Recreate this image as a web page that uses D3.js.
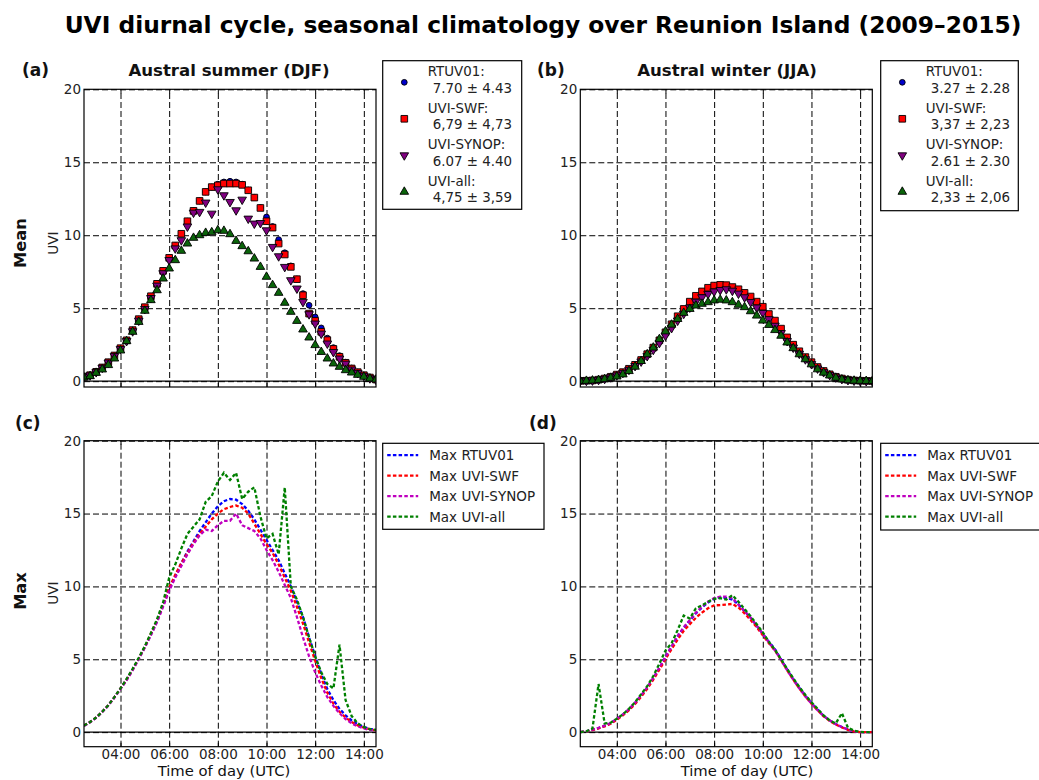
<!DOCTYPE html>
<html><head><meta charset="utf-8">
<script src="https://cdn.jsdelivr.net/npm/d3@7"></script>
<style>
body{margin:0;background:#fff;}
text{font-family:"DejaVu Sans",sans-serif;}
</style></head>
<body><svg id="chart" width="1039" height="780"></svg>
<script>
// ---------- DATA ----------
const times = [2.5,2.75,3,3.25,3.5,3.75,4,4.25,4.5,4.75,5,5.25,5.5,5.75,6,6.25,6.5,6.75,7,7.25,7.5,7.75,8,8.25,8.5,8.75,9,9.25,9.5,9.75,10,10.25,10.5,10.75,11,11.25,11.5,11.75,12,12.25,12.5,12.75,13,13.25,13.5,13.75,14,14.25,14.5];
const xTickValues = [4,6,8,10,12,14];
const xTickLabels = ["04:00","06:00","08:00","10:00","12:00","14:00"];
const yTickValues = [0,5,10,15,20];

// (a) Mean, austral summer (DJF)
const meanDJF_RTUV01 = [0.3,0.42,0.65,0.95,1.3,1.76,2.26,2.8,3.5,4.25,5.07,5.82,6.67,7.56,8.45,9.3,10.1,10.96,11.67,12.35,12.97,13.3,13.5,13.65,13.7,13.65,13.5,13.1,12.6,11.9,11.25,10.6,9.7,8.8,7.9,7.0,6.0,5.2,4.4,3.65,2.95,2.3,1.75,1.3,0.9,0.62,0.41,0.25,0.12];
const meanDJF_SWF    = [0.3,0.41,0.64,0.94,1.3,1.76,2.26,2.8,3.5,4.25,5.07,5.82,6.67,7.56,8.45,9.3,10.1,10.96,11.67,12.35,12.97,13.3,13.42,13.54,13.54,13.54,13.45,13.08,12.58,11.87,10.96,10.52,9.43,8.68,7.83,6.99,5.89,4.63,4.13,3.38,2.81,2.21,1.67,1.26,0.87,0.62,0.41,0.25,0.11];
const meanDJF_SYNOP  = [0.3,0.4,0.62,0.92,1.28,1.72,2.2,2.75,3.42,4.15,4.95,5.7,6.55,7.4,8.3,9.1,9.66,10.6,11.55,11.6,12.24,11.48,13.15,12.74,12.28,11.71,12.44,11.14,10.8,10.84,10.34,9.2,8.56,7.83,6.92,6.35,5.43,4.59,3.95,3.26,2.58,2.0,1.55,1.2,0.8,0.57,0.37,0.2,0.1];
const meanDJF_all    = [0.25,0.34,0.57,0.8,1.1,1.55,2.1,2.74,3.38,4.06,4.82,5.55,6.23,7.03,7.72,8.29,8.93,9.43,9.82,10.0,10.16,10.2,10.34,10.3,10.07,9.61,9.25,8.9,8.4,7.83,7.15,6.58,6.05,5.37,4.75,4.13,3.54,2.99,2.47,2.0,1.55,1.21,0.98,0.75,0.59,0.43,0.3,0.18,0.11];

// (b) Mean, austral winter (JJA)
const meanJJA_RTUV01 = [0.02,0.03,0.05,0.1,0.17,0.28,0.42,0.6,0.82,1.08,1.4,1.78,2.22,2.7,3.22,3.75,4.28,4.78,5.25,5.65,5.95,6.2,6.35,6.42,6.4,6.3,6.15,5.9,5.62,5.28,4.92,4.48,4.02,3.5,2.95,2.45,2.0,1.6,1.25,0.93,0.67,0.45,0.28,0.17,0.09,0.05,0.03,0.02,0.01];
const meanJJA_SWF    = [0.02,0.03,0.05,0.1,0.18,0.3,0.45,0.62,0.85,1.12,1.45,1.85,2.3,2.8,3.35,3.9,4.45,4.95,5.45,5.85,6.15,6.4,6.55,6.6,6.58,6.45,6.3,6.05,5.8,5.45,5.1,4.6,4.15,3.6,3.0,2.5,2.05,1.65,1.3,0.97,0.7,0.47,0.3,0.18,0.1,0.05,0.03,0.02,0.01];
const meanJJA_SYNOP  = [0.02,0.03,0.05,0.09,0.16,0.27,0.4,0.57,0.78,1.04,1.35,1.72,2.15,2.62,3.12,3.64,4.15,4.62,5.05,5.45,5.75,5.98,6.15,6.25,6.3,6.2,6.0,5.75,5.42,5.05,4.68,4.25,3.8,3.3,2.75,2.3,1.88,1.5,1.17,0.87,0.62,0.42,0.26,0.15,0.08,0.04,0.02,0.01,0.01];
const meanJJA_all    = [0.01,0.02,0.04,0.08,0.14,0.23,0.32,0.46,0.69,0.99,1.38,1.84,2.3,2.88,3.41,3.87,4.26,4.68,4.95,5.18,5.3,5.41,5.53,5.58,5.53,5.41,5.23,5.07,4.79,4.49,4.15,3.85,3.5,3.11,2.65,2.26,1.84,1.5,1.15,0.81,0.58,0.39,0.23,0.12,0.06,0.03,0.02,0.01,0.01];

// (c) Max, austral summer (DJF)
const maxDJF_RTUV01 = [0.45,0.7,1.0,1.4,1.85,2.4,3.0,3.6,4.3,5.05,5.85,6.7,7.6,8.7,9.8,10.7,11.6,12.4,13.1,13.8,14.4,15.0,15.5,15.85,16.0,15.95,15.65,15.2,14.6,13.9,13.2,12.5,11.8,10.9,10.0,8.95,7.9,6.5,5.2,4.0,2.95,2.2,1.6,1.15,0.8,0.55,0.35,0.22,0.15];
const maxDJF_SWF    = [0.45,0.7,1.0,1.4,1.85,2.4,3.0,3.6,4.3,5.05,5.85,6.75,7.65,8.75,9.9,10.8,11.6,12.3,13.0,13.6,14.1,14.6,15.0,15.3,15.45,15.55,15.4,15.0,14.3,13.6,12.9,12.3,11.5,10.6,9.7,8.6,7.45,6.15,4.9,3.7,2.7,1.95,1.4,1.0,0.7,0.45,0.3,0.2,0.12];
const maxDJF_SYNOP  = [0.42,0.68,0.98,1.38,1.82,2.36,2.95,3.55,4.25,5.0,5.8,6.65,7.55,8.6,9.7,10.6,11.4,12.2,12.9,13.5,13.9,13.8,14.2,14.5,14.5,15.0,14.2,14.0,13.8,13.3,12.5,11.8,11.0,10.1,9.2,7.9,6.5,5.2,4.1,3.2,2.4,1.8,1.3,0.9,0.6,0.4,0.25,0.15,0.1];
const maxDJF_all    = [0.45,0.7,1.0,1.4,1.85,2.4,3.0,3.65,4.35,5.1,5.9,6.8,7.75,8.9,10.6,11.5,12.6,13.6,14.1,14.6,15.8,16.2,17.2,17.8,17.3,17.8,16.0,16.5,16.8,14.8,13.3,13.6,12.2,16.8,10.0,9.1,7.9,6.5,5.2,4.1,3.3,3.0,6.0,2.2,1.1,0.6,0.35,0.2,0.15];

// (d) Max, austral winter (JJA)
const maxJJA_RTUV01 = [0.0,0.05,0.15,0.28,0.42,0.6,0.9,1.2,1.55,2.0,2.5,3.05,3.7,4.4,5.15,5.85,6.55,7.15,7.65,8.15,8.55,8.9,9.15,9.25,9.2,9.1,8.75,8.3,7.85,7.3,6.75,6.2,5.7,5.0,4.3,3.65,3.05,2.5,2.0,1.55,1.12,0.8,0.55,0.35,0.18,0.05,0.0,0.0,0.0];
const maxJJA_SWF    = [0.0,0.05,0.14,0.26,0.4,0.57,0.85,1.15,1.5,1.93,2.42,2.97,3.6,4.28,5.0,5.7,6.35,6.95,7.4,7.85,8.2,8.5,8.7,8.72,8.75,8.8,8.55,8.15,7.7,7.2,6.65,6.1,5.6,4.95,4.25,3.6,3.0,2.45,1.95,1.5,1.08,0.77,0.52,0.32,0.16,0.04,0.0,0.0,0.0];
const maxJJA_SYNOP  = [0.0,0.06,0.17,0.3,0.45,0.63,0.92,1.22,1.58,2.02,2.52,3.08,3.72,4.42,5.15,5.88,6.6,7.2,7.7,8.2,8.6,8.95,9.2,9.3,9.3,9.2,8.75,8.3,7.85,7.3,6.75,6.15,5.6,4.95,4.25,3.6,3.0,2.45,1.95,1.5,1.1,0.8,0.55,0.35,0.18,0.05,0.0,0.0,0.0];
const maxJJA_all    = [0.0,0.05,0.25,3.3,0.6,0.65,0.92,1.22,1.6,2.05,2.6,3.15,3.85,4.7,5.6,6.1,7.0,8.0,7.8,8.5,8.7,8.95,9.15,9.2,9.1,9.4,8.95,8.45,7.95,7.4,6.85,6.2,5.65,5.0,4.35,3.7,3.1,2.55,2.05,1.6,1.15,0.8,0.6,1.3,0.3,0.1,0.02,0.0,0.0];

const meanNames = ["RTUV01:","UVI-SWF:","UVI-SYNOP:","UVI-all:"];
const meanStatsDJF = ["7.70 \u00b1 4.43","6,79 \u00b1 4,73","6.07 \u00b1 4.40","4,75 \u00b1 3,59"];
const meanStatsJJA = ["3.27 \u00b1 2.28","3,37 \u00b1 2,23","2.61 \u00b1 2.30","2,33 \u00b1 2,06"];
const maxNames = ["Max RTUV01","Max UVI-SWF","Max UVI-SYNOP","Max UVI-all"];

// ---------- STYLE ----------
const markerFill = ["#0000cc","#ff0000","#800080","#0a640a"];
const markerType = ["circle","square","down","up"];
const lineColor = ["#0000ff","#ff0000","#bf00bf","#008000"];

const svg = d3.select("#chart");
const panels = [
  {lab:"(a)", title:"Austral summer (DJF)", x0:84, x1:376, y0:89.3, y1:387, ymin:-0.4, kind:"mean",
   series:[meanDJF_RTUV01,meanDJF_SWF,meanDJF_SYNOP,meanDJF_all], stats:meanStatsDJF,
   labX:22, titleX:229, leg:{x:382.7,y:60.7,w:139,h:148.6}},
  {lab:"(b)", title:"Austral winter (JJA)", x0:580.3, x1:872.3, y0:89.3, y1:387, ymin:-0.4, kind:"mean",
   series:[meanJJA_RTUV01,meanJJA_SWF,meanJJA_SYNOP,meanJJA_all], stats:meanStatsJJA,
   labX:537, titleX:727, leg:{x:880.7,y:60.7,w:137.6,h:150}},
  {lab:"(c)", x0:84, x1:376, y0:440.7, y1:746.7, ymin:-1, kind:"max",
   series:[maxDJF_RTUV01,maxDJF_SWF,maxDJF_SYNOP,maxDJF_all],
   labX:15, xlabX:224, leg:{x:382.7,y:443.3,w:161.3,h:86}},
  {lab:"(d)", x0:580.3, x1:872.3, y0:440.7, y1:746.7, ymin:-1, kind:"max",
   series:[maxJJA_RTUV01,maxJJA_SWF,maxJJA_SYNOP,maxJJA_all],
   labX:529, xlabX:747, leg:{x:880.7,y:443.3,w:161.3,h:86.7}}
];

function symbolPath(type){
  if(type==="circle") return d3.symbol(d3.symbolCircle, 26)();
  if(type==="square") return d3.symbol(d3.symbolSquare, 44)();
  return d3.symbol(d3.symbolTriangle, 32)();
}

panels.forEach(p=>{
  const x = d3.scaleLinear().domain([2.5,14.5]).range([p.x0,p.x1]);
  const y = d3.scaleLinear().domain([p.ymin,20]).range([p.y1,p.y0]);
  const g = svg.append("g");
  const w = p.x1-p.x0, h = p.y1-p.y0;

  // grid
  g.append("g").attr("transform",`translate(0,${p.y1})`)
    .call(d3.axisBottom(x).tickValues(xTickValues).tickSize(-h).tickFormat(""))
    .call(a=>{a.select(".domain").remove(); a.selectAll("line").attr("stroke","#000").attr("stroke-width",1).attr("stroke-dasharray","6,3");});
  g.append("g").attr("transform",`translate(${p.x0},0)`)
    .call(d3.axisLeft(y).tickValues(yTickValues).tickSize(-w).tickFormat(""))
    .call(a=>{a.select(".domain").remove(); a.selectAll("line").attr("stroke","#000").attr("stroke-width",1).attr("stroke-dasharray","6,3");});
  // inward ticks
  g.append("g").attr("transform",`translate(0,${p.y1})`)
    .call(d3.axisBottom(x).tickValues(xTickValues).tickSize(-4).tickFormat(""))
    .call(a=>{a.select(".domain").remove(); a.selectAll("line").attr("stroke","#000");});
  g.append("g").attr("transform",`translate(0,${p.y0})`)
    .call(d3.axisTop(x).tickValues(xTickValues).tickSize(-4).tickFormat(""))
    .call(a=>{a.select(".domain").remove(); a.selectAll("line").attr("stroke","#000");});
  // zero line
  g.append("line").attr("x1",p.x0).attr("x2",p.x1).attr("y1",y(0)).attr("y2",y(0))
    .attr("stroke","#000").attr("stroke-width",1.2);

  // y tick labels
  const ya = g.append("g").attr("transform",`translate(${p.x0},0)`)
    .call(d3.axisLeft(y).tickValues(yTickValues).tickSize(0).tickPadding(3));
  ya.select(".domain").remove();
  ya.selectAll("text").attr("font-family","DejaVu Sans").attr("font-size","13.5px").attr("fill","#222");

  if(p.kind==="max"){
    const xa = g.append("g").attr("transform",`translate(0,${p.y1})`)
      .call(d3.axisBottom(x).tickValues(xTickValues).tickSize(0).tickPadding(2.5).tickFormat((d,i)=>xTickLabels[i]));
    xa.select(".domain").remove();
    xa.selectAll("text").attr("font-family","DejaVu Sans").attr("font-size","13.5px").attr("fill","#222");
    g.append("text").attr("x",p.xlabX).attr("y",775.5).attr("text-anchor","middle")
      .attr("font-size","14.8px").attr("fill","#111").text("Time of day (UTC)");
  }

  const clip = "clip"+p.lab.replace(/\W/g,"");
  svg.append("clipPath").attr("id",clip).append("rect")
    .attr("x",p.x0).attr("y",p.y0).attr("width",w).attr("height",h);
  const plot = g.append("g").attr("clip-path",`url(#${clip})`);

  if(p.kind==="mean"){
    p.series.forEach((s,k)=>{
      const t = markerType[k];
      plot.append("g").selectAll("path").data(s).join("path")
        .attr("d",symbolPath(t))
        .attr("transform",(d,i)=>`translate(${x(times[i])},${y(d)})`+(t==="down"?" rotate(180)":""))
        .attr("fill",markerFill[k]).attr("stroke","#000").attr("stroke-width",0.9);
    });
  } else {
    const line = d3.line().x((d,i)=>x(times[i])).y(d=>y(d));
    p.series.forEach((s,k)=>{
      plot.append("path").datum(s).attr("d",line).attr("fill","none")
        .attr("stroke",lineColor[k]).attr("stroke-width",2.3).attr("stroke-dasharray","3.5,2.2");
    });
  }

  // frame
  g.append("rect").attr("x",p.x0).attr("y",p.y0).attr("width",w).attr("height",h)
    .attr("fill","none").attr("stroke","#000").attr("stroke-width",1.2);

  // panel label and title
  g.append("text").attr("x",p.labX).attr("y",p.kind==="mean"?76:429).attr("font-size","17px")
    .attr("font-weight","bold").attr("fill","#111").text(p.lab);
  if(p.title) g.append("text").attr("x",p.titleX).attr("y",76).attr("text-anchor","middle")
    .attr("font-size","16.6px").attr("font-weight","bold").attr("fill","#111").text(p.title);

  // legend
  const L = p.leg;
  const lg = svg.append("g");
  lg.append("rect").attr("x",L.x).attr("y",L.y).attr("width",L.w).attr("height",L.h)
    .attr("fill","#fff").attr("stroke","#000").attr("stroke-width",1.2);
  if(p.kind==="mean"){
    meanNames.forEach((nm,k)=>{
      const cy = L.y + 21.6 + k*36.5;
      const mx = L.x + 21.6;
      const t = markerType[k];
      lg.append("path").attr("d",symbolPath(t))
        .attr("transform",`translate(${mx},${cy})`+(t==="down"?" rotate(180)":""))
        .attr("fill",markerFill[k]).attr("stroke","#000").attr("stroke-width",0.9);
      lg.append("text").attr("x",L.x+45).attr("y",cy-6.3).attr("font-size","13.4px").attr("fill","#222").text(nm);
      lg.append("text").attr("x",L.x+50).attr("y",cy+10.3).attr("font-size","13.4px").attr("fill","#222").text(p.stats[k]);
    });
  } else {
    maxNames.forEach((nm,k)=>{
      const cy = L.y + 11.8 + k*20.5;
      lg.append("line").attr("x1",L.x+4.5).attr("x2",L.x+35.5).attr("y1",cy).attr("y2",cy)
        .attr("stroke",lineColor[k]).attr("stroke-width",2.3).attr("stroke-dasharray","3.5,2.2");
      lg.append("text").attr("x",L.x+46.5).attr("y",cy+5).attr("font-size","13.5px").attr("fill","#222").text(nm);
    });
  }
});

// row labels
[["Mean",243],["Max",591]].forEach(([t,cy])=>{
  svg.append("text").attr("transform",`translate(26,${cy}) rotate(-90)`).attr("text-anchor","middle")
    .attr("font-size","16.3px").attr("font-weight","bold").attr("fill","#111").text(t);
});
[243,593].forEach(cy=>{
  svg.append("text").attr("transform",`translate(57.5,${cy}) rotate(-90)`).attr("text-anchor","middle")
    .attr("font-size","13.6px").attr("fill","#222").text("UVI");
});

// main title
const title = svg.append("text").attr("x",543).attr("y",33).attr("text-anchor","middle")
  .attr("font-size","21px").attr("font-weight","bold").attr("fill","#000")
  .text("UVI diurnal cycle, seasonal climatology over Reunion Island (2009\u20132015)");
const tl = title.node().getComputedTextLength();
title.attr("font-size", (21*957/tl).toFixed(2)+"px");
</script>
</body></html>
